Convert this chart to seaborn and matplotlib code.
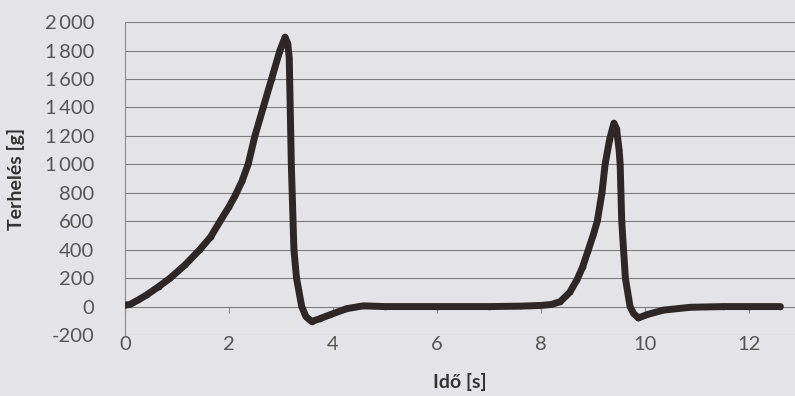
import numpy as np
import pandas as pd
import matplotlib
matplotlib.use("Agg")
import matplotlib.pyplot as plt
import seaborn as sns

# values
ido = [0, 0.1, 0.25, 0.42, 0.65, 0.87, 1.15, 1.44, 1.65, 1.83,
       2.0, 2.12, 2.25, 2.37, 2.5, 2.66, 2.82, 2.98, 3.08, 3.13, 3.16,
       3.2, 3.25, 3.3, 3.4, 3.48, 3.59, 3.75, 3.94, 4.26, 4.58,
       5.0, 6.0, 7.0, 7.6, 8.0, 8.2, 8.37, 8.55, 8.69, 8.8,
       8.9, 9.0, 9.08, 9.17, 9.23, 9.32, 9.40, 9.45, 9.5, 9.52,
       9.55, 9.62, 9.71, 9.78, 9.87, 10.05, 10.35, 10.87, 11.5, 12.0,
       12.6]
terheles = [10, 15, 45, 82, 140, 200, 290, 400, 490, 600,
            700, 780, 880, 1000, 1200, 1400, 1600, 1800, 1895, 1850, 1750,
            1000, 400, 200, 0, -70, -105, -85, -58, -15, 5,
            0, 0, 0, 3, 8, 15, 35, 100, 188, 280,
            390, 500, 600, 800, 1000, 1180, 1290, 1250, 1100, 1000,
            600, 200, 0, -50, -80, -55, -25, -5, 0, 0,
            0]

y_ticks = list(range(-200, 2001, 200))
y_labels = [f"{v:,}".replace(",", "\u2009") for v in y_ticks]
x_ticks = [0, 2, 4, 6, 8, 10, 12]

df = pd.DataFrame({"t": ido, "f": terheles})

sns.set_style("white")
plt.rcParams["font.family"] = ["Lato", "DejaVu Sans"]

bg = "#e4e3e8"
fig = plt.figure(figsize=(7.95, 3.96), dpi=100, facecolor=bg)
ax = fig.add_axes([0.157, 0.154, 0.843, 0.79], facecolor=bg)

sns.lineplot(data=df, x="t", y="f", ax=ax, color="#2e2725", linewidth=5.0,
             marker="o", markersize=4, markeredgewidth=0, zorder=3)

ax.set_xlim(0, 12.88)
ax.set_ylim(-200, 2000)
ax.set_yticks(y_ticks)
ax.set_yticklabels(y_labels)
ax.set_xticks(x_ticks)
ax.grid(axis="y", color="#7d7d80", linewidth=0.8)
for s in ["top", "right", "bottom"]:
    ax.spines[s].set_visible(False)
ax.spines["left"].set_color("#8a8a8c")
ax.tick_params(axis="y", labelsize=14.5, colors="#555555", length=0, pad=22)
ax.tick_params(axis="x", labelsize=14.5, colors="#555555", length=0, pad=1)

# small ticks on the zero line
sec = ax.secondary_xaxis(200 / 2200)
sec.set_xticks(x_ticks)
sec.set_xticklabels([])
sec.spines["bottom"].set_visible(False)
sec.tick_params(direction="out", length=4, color="#8a8a8c")

ax.set_xlabel("Idő [s]", fontsize=14, fontweight="bold", color="#333333", labelpad=14)
ax.set_ylabel("Terhelés [g]", fontsize=14, fontweight="bold", color="#333333", labelpad=14)

fig.savefig("out.png", dpi=100, facecolor=bg)
